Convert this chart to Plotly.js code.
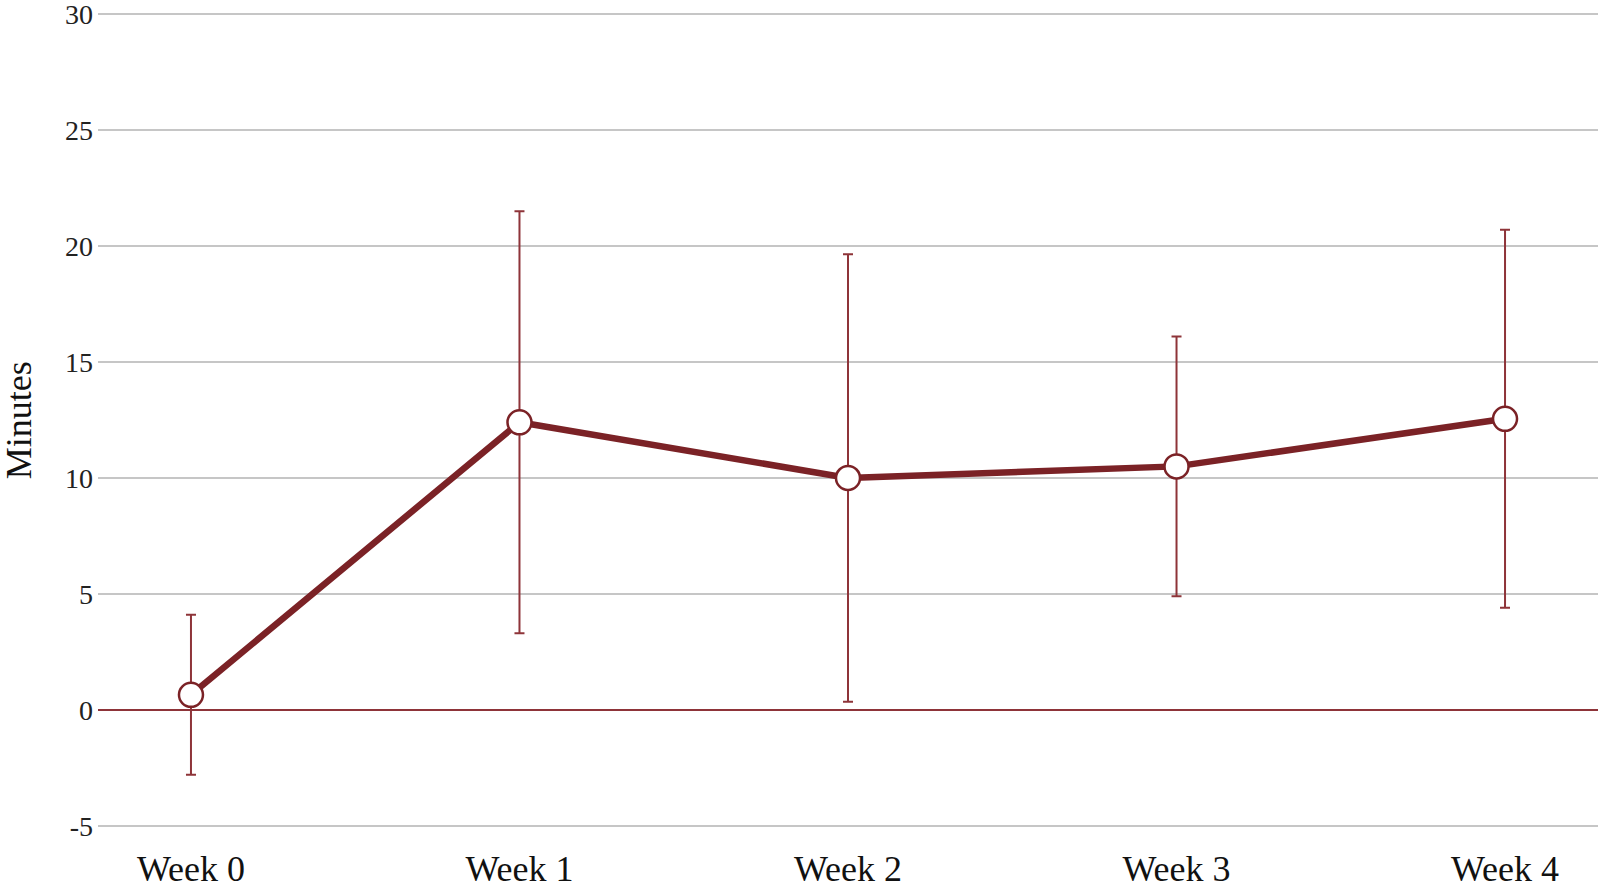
<!DOCTYPE html>
<html>
<head>
<meta charset="utf-8">
<script src="https://cdn.plot.ly/plotly-3.0.1.min.js"></script>
<style>
  html, body { margin: 0; padding: 0; background: #ffffff; }
  #chart { width: 1605px; height: 889px; }
</style>
</head>
<body>
<div id="chart"></div>
<script>
// === Datos ===
const semanas = ['Week 0', 'Week 1', 'Week 2', 'Week 3', 'Week 4'];
const minutos = [0.65, 12.4, 10.0, 10.5, 12.55];
const errores = [3.45, 9.1, 9.65, 5.6, 8.15];
const yTicks = [-5, 0, 5, 10, 15, 20, 25, 30];
const yTickText = ['-5', '0', '5', '10', '15', '20', '25', '30'];

const ROJO = '#7b2226';
const ROJO_ERR = '#8e3439';

const traces = [{
  x: semanas,
  y: minutos,
  type: 'scatter',
  mode: 'lines+markers',
  line: { color: ROJO, width: 6.5 },
  marker: { size: 24, color: '#ffffff', line: { color: ROJO, width: 2.5 } },
  error_y: {
    type: 'data',
    array: errores,
    visible: true,
    color: ROJO_ERR,
    thickness: 2,
    width: 5
  },
  showlegend: false,
  hoverinfo: 'x+y'
}];

const layout = {
  width: 1605,
  height: 889,
  margin: { l: 98, r: 7, t: 13, b: 62 },
  paper_bgcolor: '#ffffff',
  plot_bgcolor: '#ffffff',
  font: { family: '"Liberation Serif", "DejaVu Serif", serif', color: '#222222' },
  xaxis: {
    type: 'category',
    range: [-0.283, 4.283],
    showgrid: false,
    zeroline: false,
    showline: false,
    ticks: '',
    tickfont: { size: 36, color: '#111111' },
    ticklabelstandoff: 17
  },
  yaxis: {
    range: [-5.05, 30.05],
    tickvals: yTicks,
    ticktext: yTickText,
    ticklabeloverflow: 'allow',
    showgrid: true,
    gridcolor: '#c6c6c6',
    gridwidth: 2,
    zeroline: true,
    zerolinecolor: ROJO_ERR,
    zerolinewidth: 2,
    showline: false,
    ticks: '',
    tickfont: { size: 28, color: '#222222' },
    ticklabelstandoff: 4
  },
  // título del eje Y como anotación para poder pegarlo al borde
  annotations: [{
    text: 'Minutes',
    xref: 'paper',
    yref: 'paper',
    x: -0.0525,
    y: 0.5,
    xanchor: 'center',
    yanchor: 'middle',
    textangle: -90,
    showarrow: false,
    font: { size: 36, color: '#111111' }
  }]
};

Plotly.newPlot('chart', traces, layout, { displayModeBar: false, staticPlot: true });
</script>
</body>
</html>
